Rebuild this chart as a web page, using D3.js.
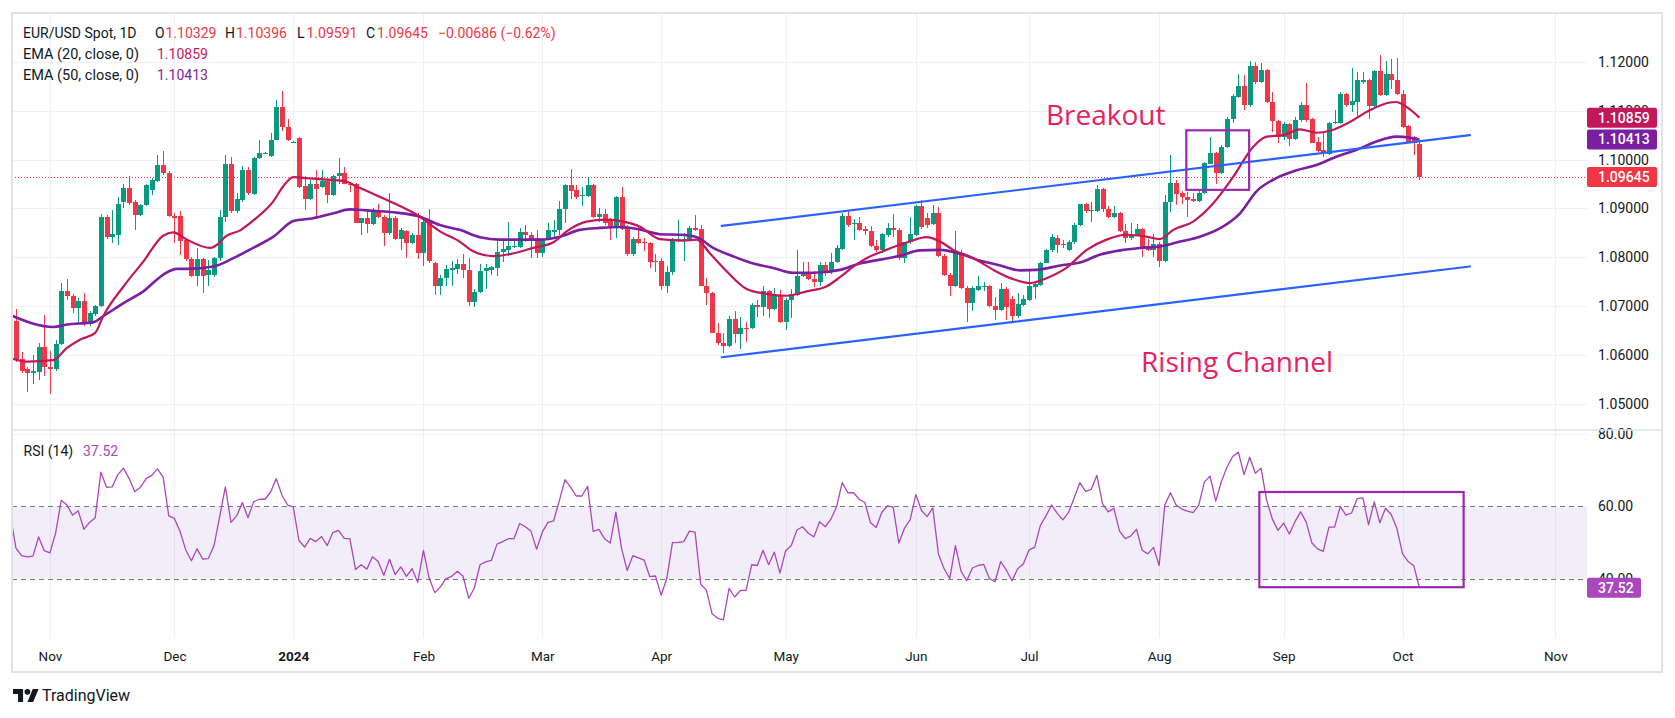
<!DOCTYPE html>
<html>
<head>
<meta charset="utf-8">
<script src="https://cdn.jsdelivr.net/npm/d3@7"></script>
<style>
  html, body { margin: 0; padding: 0; background: #ffffff; }
  svg { display: block; font-family: Roboto, "Noto Sans", "DejaVu Sans", sans-serif; }
</style>
</head>
<body>
<svg id="chart" width="1675" height="718"></svg>
<script>
// ---------------- DATA (daily EUR/USD, bar 0 = 24 Oct 2023, bar 248 = 4 Oct 2024) ----------------
const opens = [
1.0669,1.0592,1.0570,1.0563,1.0565,1.0616,1.0575,1.0570,1.0623,1.0731,
1.0720,1.0695,1.0711,1.0663,1.0684,1.0700,1.0883,1.0842,1.0846,1.0914,
1.0941,1.0913,1.0887,1.0906,1.0938,1.0957,1.0989,1.0972,1.0885,1.0885,
1.0836,1.0796,1.0761,1.0796,1.0764,1.0764,1.0798,1.0883,1.0992,1.0894,
1.0917,1.0979,1.0930,1.1003,1.1013,1.1008,1.1041,1.1108,1.1066,1.1036,
1.1045,1.0945,1.0920,1.0950,1.0943,1.0957,1.0928,1.0966,1.0972,1.0951,
1.0951,1.0871,1.0880,1.0868,1.0897,1.0883,1.0849,1.0880,1.0837,1.0853,
1.0830,1.0846,1.0808,1.0873,1.0788,1.0742,1.0757,1.0773,1.0776,1.0787,
1.0774,1.0708,1.0728,1.0772,1.0774,1.0777,1.0810,1.0815,1.0821,1.0821,
1.0851,1.0845,1.0840,1.0808,1.0837,1.0852,1.0856,1.0898,1.0948,1.0938,
1.0926,1.0926,1.0948,1.0883,1.0889,1.0876,1.0864,1.0924,1.0862,1.0807,
1.0838,1.0832,1.0829,1.0793,1.0793,1.0742,1.0770,1.0833,1.0833,1.0837,
1.0860,1.0857,1.0742,1.0727,1.0645,1.0624,1.0618,1.0674,1.0642,1.0655,
1.0655,1.0702,1.0697,1.0730,1.0694,1.0722,1.0667,1.0713,1.0723,1.0762,
1.0770,1.0756,1.0749,1.0783,1.0772,1.0791,1.0817,1.0885,1.0868,1.0871,
1.0858,1.0853,1.0823,1.0814,1.0846,1.0860,1.0856,1.0798,1.0832,1.0845,
1.0904,1.0880,1.0868,1.0890,1.0803,1.0764,1.0740,1.0809,1.0737,1.0706,
1.0733,1.0738,1.0741,1.0700,1.0691,1.0734,1.0715,1.0679,1.0703,1.0713,
1.0738,1.0744,1.0789,1.0814,1.0839,1.0827,1.0814,1.0831,1.0866,1.0909,
1.0894,1.0895,1.0940,1.0898,1.0883,1.0891,1.0854,1.0840,1.0845,1.0857,
1.0822,1.0815,1.0827,1.0792,1.0913,1.0953,1.0931,1.0923,1.0919,1.0916,
1.0931,1.0992,1.1013,1.0972,1.1025,1.1084,1.1128,1.1150,1.1111,1.1191,
1.1159,1.1184,1.1118,1.1079,1.1047,1.1072,1.1042,1.1081,1.1111,1.1084,
1.1037,1.1020,1.1011,1.1075,1.1075,1.1134,1.1112,1.1118,1.1160,1.1164,
1.1110,1.1181,1.1133,1.1176,1.1164,1.1135,1.1069,1.1047,1.10329
];
const highs = [
1.0694,1.0606,1.0576,1.0599,1.0625,1.0682,1.0607,1.0630,1.0747,1.0756,
1.0724,1.0716,1.0727,1.0690,1.0703,1.0889,1.0887,1.0897,1.0924,1.0951,
1.0966,1.0918,1.0910,1.0949,1.0962,1.1009,1.1017,1.0976,1.0891,1.0894,
1.0840,1.0801,1.0819,1.0798,1.0795,1.0801,1.0897,1.1009,1.1005,1.0931,
1.0987,1.0984,1.1005,1.1041,1.1015,1.1055,1.1123,1.1140,1.1084,1.1038,
1.1046,1.0966,1.0958,1.0979,1.0979,1.0960,1.0968,1.1003,1.0985,1.0953,
1.0953,1.0881,1.0898,1.0900,1.0909,1.0886,1.0931,1.0884,1.0860,1.0856,
1.0849,1.0890,1.0876,1.0898,1.0790,1.0764,1.0785,1.0793,1.0797,1.0807,
1.0798,1.0734,1.0787,1.0787,1.0781,1.0838,1.0838,1.0873,1.0838,1.0860,
1.0865,1.0851,1.0855,1.0840,1.0870,1.0877,1.0915,1.0951,1.0981,1.0948,
1.0943,1.0965,1.0950,1.0901,1.0898,1.0880,1.0926,1.0944,1.0866,1.0842,
1.0863,1.0840,1.0832,1.0807,1.0798,1.0781,1.0839,1.0877,1.0850,1.0863,
1.0887,1.0866,1.0757,1.0729,1.0665,1.0645,1.0680,1.0690,1.0678,1.0668,
1.0706,1.0713,1.0742,1.0733,1.0737,1.0733,1.0717,1.0735,1.0814,1.0791,
1.0791,1.0772,1.0790,1.0791,1.0808,1.0826,1.0890,1.0894,1.0879,1.0883,
1.0864,1.0864,1.0835,1.0850,1.0870,1.0889,1.0860,1.0832,1.0883,1.0907,
1.0917,1.0890,1.0906,1.0903,1.0806,1.0768,1.0853,1.0815,1.0741,1.0741,
1.0761,1.0750,1.0743,1.0718,1.0747,1.0739,1.0720,1.0726,1.0723,1.0776,
1.0748,1.0790,1.0816,1.0847,1.0845,1.0835,1.0835,1.0870,1.0910,1.0912,
1.0913,1.0947,1.0941,1.0905,1.0905,1.0893,1.0869,1.0870,1.0869,1.0859,
1.0837,1.0847,1.0831,1.0928,1.1009,1.0958,1.0935,1.0934,1.0932,1.0938,
1.0995,1.1047,1.1016,1.1030,1.1088,1.1135,1.1176,1.1174,1.1202,1.1200,
1.1198,1.1186,1.1139,1.1081,1.1077,1.1076,1.1087,1.1118,1.1157,1.1086,
1.1047,1.1057,1.1077,1.1101,1.1139,1.1137,1.1188,1.1180,1.1180,1.1166,
1.1183,1.1214,1.1202,1.1206,1.1209,1.1143,1.1071,1.1049,1.10396
];
const lows = [
1.0585,1.0563,1.0524,1.0540,1.0548,1.0556,1.0520,1.0566,1.0621,1.0712,
1.0686,1.0665,1.0660,1.0660,1.0680,1.0697,1.0838,1.0830,1.0825,1.0900,
1.0906,1.0855,1.0885,1.0904,1.0928,1.0955,1.0968,1.0883,1.0830,1.0805,
1.0793,1.0759,1.0742,1.0727,1.0742,1.0760,1.0792,1.0873,1.0891,1.0891,
1.0914,1.0928,1.0928,1.1001,1.1011,1.1006,1.1040,1.1059,1.1039,1.1034,
1.0941,1.0897,1.0917,1.0883,1.0941,1.0912,1.0926,1.0951,1.0950,1.0934,
1.0870,1.0846,1.0849,1.0866,1.0881,1.0822,1.0846,1.0835,1.0815,1.0798,
1.0828,1.0796,1.0781,1.0789,1.0723,1.0723,1.0742,1.0742,1.0765,1.0757,
1.0700,1.0697,1.0726,1.0735,1.0763,1.0762,1.0791,1.0803,1.0818,1.0818,
1.0832,1.0798,1.0798,1.0800,1.0835,1.0842,1.0846,1.0870,1.0919,1.0919,
1.0904,1.0924,1.0880,1.0873,1.0867,1.0836,1.0839,1.0856,1.0803,1.0803,
1.0828,1.0812,1.0778,1.0769,1.0733,1.0727,1.0764,1.0831,1.0793,1.0835,
1.0853,1.0740,1.0702,1.0644,1.0621,1.0604,1.0616,1.0625,1.0611,1.0626,
1.0652,1.0678,1.0679,1.0676,1.0692,1.0665,1.0650,1.0676,1.0721,1.0759,
1.0753,1.0739,1.0742,1.0762,1.0765,1.0789,1.0815,1.0862,1.0836,1.0853,
1.0845,1.0820,1.0810,1.0809,1.0842,1.0842,1.0795,1.0788,1.0828,1.0843,
1.0858,1.0860,1.0866,1.0801,1.0761,1.0721,1.0738,1.0735,1.0668,1.0689,
1.0730,1.0731,1.0698,1.0672,1.0689,1.0672,1.0667,1.0676,1.0700,1.0711,
1.0714,1.0741,1.0788,1.0811,1.0808,1.0818,1.0813,1.0828,1.0863,1.0890,
1.0873,1.0893,1.0893,1.0880,1.0880,1.0851,1.0829,1.0836,1.0843,1.0800,
1.0813,1.0800,1.0779,1.0790,1.0893,1.0906,1.0908,1.0883,1.0914,1.0914,
1.0929,1.0990,1.0950,1.0971,1.1023,1.1074,1.1126,1.1101,1.1107,1.1155,
1.1156,1.1115,1.1057,1.1033,1.1040,1.1028,1.1040,1.1078,1.1078,1.1034,
1.1015,1.1005,1.1009,1.1073,1.1073,1.1108,1.1098,1.1088,1.1155,1.1084,
1.1108,1.1130,1.1130,1.1145,1.1132,1.1065,1.1035,1.1009,1.09591
];
const closes = [
1.0590,1.0567,1.0563,1.0567,1.0616,1.0575,1.0570,1.0623,1.0731,1.0720,
1.0696,1.0711,1.0663,1.0686,1.0701,1.0883,1.0842,1.0848,1.0909,1.0941,
1.0911,1.0887,1.0907,1.0947,1.0958,1.0989,1.0972,1.0885,1.0880,1.0834,
1.0796,1.0761,1.0796,1.0762,1.0774,1.0798,1.0883,1.0992,1.0894,1.0919,
1.0979,1.0931,1.1003,1.1013,1.1014,1.1041,1.1108,1.1066,1.1040,1.1037,
1.0943,1.0920,1.0950,1.0939,1.0957,1.0928,1.0966,1.0972,1.0951,1.0950,
1.0871,1.0880,1.0868,1.0897,1.0883,1.0849,1.0880,1.0838,1.0855,1.0830,
1.0846,1.0808,1.0873,1.0793,1.0742,1.0758,1.0775,1.0778,1.0787,1.0774,
1.0708,1.0729,1.0772,1.0777,1.0780,1.0811,1.0817,1.0823,1.0823,1.0851,
1.0845,1.0838,1.0808,1.0837,1.0855,1.0855,1.0898,1.0948,1.0936,1.0924,
1.0927,1.0948,1.0883,1.0889,1.0871,1.0864,1.0924,1.0858,1.0807,1.0838,
1.0829,1.0829,1.0790,1.0790,1.0742,1.0770,1.0837,1.0837,1.0837,1.0860,
1.0856,1.0742,1.0727,1.0645,1.0624,1.0618,1.0674,1.0642,1.0655,1.0654,
1.0702,1.0697,1.0730,1.0694,1.0722,1.0667,1.0713,1.0725,1.0762,1.0770,
1.0755,1.0749,1.0783,1.0772,1.0791,1.0819,1.0885,1.0867,1.0871,1.0856,
1.0853,1.0822,1.0814,1.0848,1.0860,1.0856,1.0798,1.0832,1.0847,1.0904,
1.0862,1.0866,1.0890,1.0802,1.0764,1.0740,1.0809,1.0737,1.0706,1.0737,
1.0741,1.0741,1.0700,1.0691,1.0734,1.0697,1.0679,1.0704,1.0714,1.0742,
1.0745,1.0789,1.0814,1.0841,1.0826,1.0825,1.0832,1.0866,1.0909,1.0894,
1.0897,1.0940,1.0898,1.0883,1.0891,1.0853,1.0839,1.0846,1.0857,1.0818,
1.0815,1.0827,1.0792,1.0913,1.0953,1.0929,1.0923,1.0917,1.0916,1.0931,
1.0994,1.1013,1.0972,1.1026,1.1084,1.1130,1.1150,1.1111,1.1191,1.1159,
1.1184,1.1118,1.1079,1.1047,1.1072,1.1043,1.1082,1.1111,1.1081,1.1035,
1.1018,1.1013,1.1074,1.1077,1.1134,1.1111,1.1120,1.1163,1.1163,1.1110,
1.1181,1.1132,1.1176,1.1164,1.1134,1.1067,1.1037,1.10331,1.09645
];

// EMA readings [bar index, value]
const ema20 = [
[-0.7,1.0592],[2,1.0586],[6.6,1.0589],[9,1.0614],[11.3,1.0631],[14,1.0645],[15.4,1.0679],[19,1.0740],
[22.5,1.0791],[26,1.0844],[27.8,1.0851],[30.2,1.0836],[34.3,1.0819],[36,1.0830],[37,1.0842],[39.6,1.0855],
[42,1.0876],[45.5,1.0915],[47.2,1.0945],[49,1.0964],[50.2,1.0963],[53.7,1.0960],[58.4,1.0955],[60,1.0946],
[63.1,1.0930],[66.7,1.0911],[71.1,1.0885],[74.9,1.0853],[78.4,1.0832],[80.8,1.0812],[84.3,1.0802],[87.9,1.0808],
[91.4,1.0819],[94.9,1.0830],[97.3,1.0853],[100.8,1.0873],[104.4,1.0877],[107.3,1.0873],[110.2,1.0863],[113.8,1.0837],
[117.9,1.0834],[120.3,1.0836],[122.6,1.0808],[125.6,1.0771],[129.1,1.0735],[132.6,1.0725],[136.2,1.0721],[139.7,1.0730],
[143.2,1.0740],[145.6,1.0759],[148,1.0781],[150.3,1.0798],[153.8,1.0815],[157.4,1.0830],[160.9,1.0841],[163.3,1.0832],
[165.6,1.0815],[169.2,1.0798],[172.7,1.0774],[176.2,1.0755],[179.2,1.0747],[182.1,1.0757],[185.6,1.0778],[189.2,1.0815],
[192.7,1.0836],[196.2,1.0846],[199.8,1.0842],[202.1,1.0837],[204.5,1.0856],[208,1.0873],[211.6,1.0911],[215.1,1.0965],
[218.6,1.1026],[221,1.1047],[223.9,1.1050],[226.9,1.1062],[229.8,1.1055],[232.2,1.1059],[235.7,1.1077],[239.2,1.1101],
[242.8,1.1117],[243.9,1.1118],[245.7,1.1108],[248,1.10859]
];
const ema50 = [
[-0.7,1.0680],[6.6,1.0657],[9,1.0662],[13.7,1.0667],[15.4,1.0679],[19,1.0706],[22.5,1.0730],[26,1.0764],
[28.4,1.0776],[30.2,1.0776],[34.9,1.0781],[38.4,1.0798],[41.9,1.0819],[45.5,1.0842],[49,1.0874],[52.5,1.0880],
[56.1,1.0890],[59,1.0898],[62,1.0896],[66.7,1.0892],[71.4,1.0883],[74.9,1.0866],[78.4,1.0856],[82,1.0841],
[85.5,1.0836],[89,1.0836],[92.6,1.0836],[96.1,1.0842],[99.6,1.0856],[103.2,1.0860],[106.7,1.0862],[110.2,1.0857],
[113.8,1.0847],[117.3,1.0846],[120.3,1.0841],[123.2,1.0819],[126.7,1.0802],[130.3,1.0787],[133.8,1.0778],[137.3,1.0768],
[140.9,1.0768],[145.6,1.0774],[149.1,1.0787],[152.7,1.0795],[156.2,1.0803],[159.7,1.0814],[163.3,1.0815],[166.8,1.0807],
[170.3,1.0793],[173.9,1.0783],[177.4,1.0773],[180.3,1.0774],[184.5,1.0783],[188,1.0789],[191.5,1.0805],[195.1,1.0814],
[198.6,1.0819],[202.1,1.0822],[205.7,1.0832],[209.2,1.0842],[212.7,1.0859],[216.3,1.0890],[219.2,1.0935],[222.7,1.0962],
[226.3,1.0978],[229.8,1.0989],[233.3,1.1006],[236.9,1.1020],[240.4,1.1037],[243.9,1.1047],[246.3,1.1045],[248,1.10413]
];

// RSI(14), first value belongs to bar -1 (23 Oct 2023)
const rsiFirstIndex = -1;
const rsiValues = [
57.7,
48.5,46.4,46.1,46.3,51.6,47.8,47.2,52.6,61.7,60.4,
57.6,58.8,53.7,55.6,56.9,69.5,65.3,65.4,68.8,70.6,
67.7,64.1,65.3,67.7,68.6,70.4,68.1,57.4,56.7,53.1,
48.0,45.0,48.3,45.5,45.6,49.2,57.2,65.4,55.6,57.4,
61.1,56.9,61.3,62.0,62.0,64.0,67.7,63.1,60.4,59.9,
50.6,48.8,51.2,50.3,51.7,49.2,52.8,53.4,51.2,51.1,
42.6,43.9,42.7,46.1,44.8,41.0,45.4,41.2,43.3,40.7,
42.8,39.0,47.9,40.3,36.2,37.8,40.1,40.7,42.1,40.7,
34.6,37.5,43.9,44.7,45.1,49.6,50.3,51.1,51.1,55.3,
54.4,53.2,48.2,52.9,55.6,56.0,61.5,67.4,65.3,62.9,
62.9,65.6,53.1,53.7,51.1,49.9,58.4,48.5,42.3,46.4,
45.8,45.2,40.6,40.8,35.5,40.1,50.0,50.1,50.3,53.2,
52.9,38.5,36.9,30.4,29.1,28.7,37.4,35.0,36.8,36.8,
43.9,43.7,47.9,43.9,47.4,41.6,47.8,49.2,53.5,54.4,
52.6,51.6,55.8,54.4,56.5,59.9,66.6,63.8,63.8,62.0,
61.1,55.5,54.2,58.4,60.2,59.8,49.9,54.0,56.3,63.3,
58.9,57.2,59.6,46.9,42.8,40.1,49.2,42.1,39.5,43.0,
43.7,44.0,40.1,39.2,44.8,42.4,39.5,42.8,44.1,48.0,
48.7,54.7,57.4,60.4,58.1,56.3,58.4,62.4,66.6,64.2,
64.7,68.6,60.7,58.5,59.5,53.2,51.1,51.9,53.7,47.9,
46.9,48.7,43.7,60.4,63.8,60.4,59.3,58.7,58.3,60.4,
66.8,68.4,61.5,66.9,70.9,73.8,75.0,68.8,73.6,69.2,
70.6,61.7,56.5,53.4,55.4,52.4,55.8,58.5,55.6,49.9,
48.3,47.6,54.3,54.3,60.0,57.6,58.2,62.2,62.4,54.9,
61.3,55.5,59.5,57.8,54.0,47.0,44.8,43.6,37.52
];

// Axis ticks
const priceTicks = [1.05, 1.06, 1.07, 1.08, 1.09, 1.10, 1.11, 1.12];
const rsiTicks = [40, 60, 80];
const rsiBands = [40, 60];
const monthLabels = ["Nov", "Dec", "2024", "Feb", "Mar", "Apr", "May", "Jun", "Jul", "Aug", "Sep", "Oct", "Nov"];
const monthIndex  = [6, 28, 49, 72, 93, 114, 136, 159, 179, 202, 224, 245, 272];

// Drawings [bar index, price]
const channelUpper = [[124.7, 1.0864], [256.9, 1.1050]];
const channelLower = [[124.7, 1.0595], [256.9, 1.0781]];
const breakoutBox = [[206.8, 1.1060], [217.9, 1.0938]];
const rsiBox = [[219.7, 64.0], [255.8, 37.7]];
const annotations = [
  { text: "Breakout", i: 182.0, p: 1.10709 },
  { text: "Rising Channel", i: 198.8, p: 1.05648 }
];

// ---------------- LAYOUT ----------------
const svg = d3.select("#chart");
const L = 12, R = 1587, PT = 13, PB = 430, RT = 430, RB = 638, FR = 1662, FB = 672;
const UP = "#089981", DN = "#F23645", EMA20C = "#C2185B", EMA50C = "#7B1FA2", RSIC = "#AB47BC";
const GRID = "#EFF1F5", FRAME = "#E0E3EB", TXT = "#131722";

const x = d3.scaleLinear().domain([-0.7, 277.6]).range([L, R]);
const yP = d3.scaleLinear().domain([1.04459, 1.13004]).range([PB, PT]);
const yR = d3.scaleLinear().domain([23.67, 81.13]).range([RB, RT]);

const defs = svg.append("defs");
defs.append("clipPath").attr("id", "clipP").append("rect").attr("x", L).attr("y", PT).attr("width", R - L).attr("height", PB - PT);
defs.append("clipPath").attr("id", "clipR").append("rect").attr("x", L).attr("y", RT).attr("width", R - L).attr("height", RB - RT);

// grids
const grid = svg.append("g").attr("shape-rendering", "crispEdges");
grid.selectAll("line.h").data(priceTicks).join("line")
  .attr("x1", L).attr("x2", R)
  .attr("y1", d => Math.round(yP(d)) + 0.5).attr("y2", d => Math.round(yP(d)) + 0.5)
  .attr("stroke", GRID);
grid.append("line").attr("x1", L).attr("x2", R)
  .attr("y1", Math.round(yR(80)) + 0.5).attr("y2", Math.round(yR(80)) + 0.5).attr("stroke", GRID);
grid.selectAll("line.v").data(monthIndex).join("line")
  .attr("x1", d => Math.round(x(d)) + 0.5).attr("x2", d => Math.round(x(d)) + 0.5)
  .attr("y1", PT).attr("y2", RB).attr("stroke", GRID);

// RSI pane
const rsiG = svg.append("g").attr("clip-path", "url(#clipR)");
rsiG.append("rect").attr("x", L).attr("width", R - L)
  .attr("y", yR(rsiBands[1])).attr("height", yR(rsiBands[0]) - yR(rsiBands[1]))
  .attr("fill", "rgba(126,87,194,0.1)");
rsiG.selectAll("line.band").data(rsiBands).join("line")
  .attr("x1", L).attr("x2", R)
  .attr("y1", d => Math.round(yR(d)) + 0.5).attr("y2", d => Math.round(yR(d)) + 0.5)
  .attr("stroke", "#787B86").attr("stroke-dasharray", "5,4");
const rsiLine = d3.line().x((d, k) => x(k + rsiFirstIndex)).y(d => yR(d));
rsiG.append("path").datum(rsiValues).attr("d", rsiLine)
  .attr("fill", "none").attr("stroke", RSIC).attr("stroke-width", 1.3).attr("stroke-linejoin", "round");
rsiG.append("rect")
  .attr("x", x(rsiBox[0][0])).attr("y", yR(rsiBox[0][1]))
  .attr("width", x(rsiBox[1][0]) - x(rsiBox[0][0])).attr("height", yR(rsiBox[1][1]) - yR(rsiBox[0][1]))
  .attr("fill", "none").attr("stroke", "#9C27B0").attr("stroke-width", 2.2);

// Price pane
const pp = svg.append("g").attr("clip-path", "url(#clipP)");
const lastClose = closes[closes.length - 1];
pp.append("line").attr("x1", L).attr("x2", R)
  .attr("y1", Math.round(yP(lastClose)) + 0.5).attr("y2", Math.round(yP(lastClose)) + 0.5)
  .attr("stroke", DN).attr("stroke-dasharray", "1,2");

const bars = d3.range(closes.length).map(i => ({ i, o: opens[i], h: highs[i], l: lows[i], c: closes[i] }));
const cg = pp.append("g").attr("shape-rendering", "crispEdges");
cg.selectAll("line.wick").data(bars).join("line")
  .attr("x1", d => Math.round(x(d.i)) + 0.5).attr("x2", d => Math.round(x(d.i)) + 0.5)
  .attr("y1", d => yP(d.h)).attr("y2", d => yP(d.l))
  .attr("stroke", d => d.c >= d.o ? UP : DN);
cg.selectAll("rect.body").data(bars).join("rect")
  .attr("x", d => Math.round(x(d.i)) - 2).attr("width", 5)
  .attr("y", d => yP(Math.max(d.o, d.c)))
  .attr("height", d => Math.max(1, Math.abs(yP(d.o) - yP(d.c))))
  .attr("fill", d => d.c >= d.o ? UP : DN);

const emaLine = d3.line().x(d => x(d[0])).y(d => yP(d[1])).curve(d3.curveMonotoneX);
pp.append("path").datum(ema50).attr("d", emaLine).attr("fill", "none")
  .attr("stroke", EMA50C).attr("stroke-width", 2.6).attr("stroke-linejoin", "round");
pp.append("path").datum(ema20).attr("d", emaLine).attr("fill", "none")
  .attr("stroke", EMA20C).attr("stroke-width", 2.2).attr("stroke-linejoin", "round");

const straight = d3.line().x(d => x(d[0])).y(d => yP(d[1]));
[channelUpper, channelLower].forEach(c => {
  pp.append("path").datum(c).attr("d", straight).attr("fill", "none")
    .attr("stroke", "#2962FF").attr("stroke-width", 2.2).attr("stroke-linecap", "round");
});
pp.append("rect")
  .attr("x", x(breakoutBox[0][0])).attr("y", yP(breakoutBox[0][1]))
  .attr("width", x(breakoutBox[1][0]) - x(breakoutBox[0][0]))
  .attr("height", yP(breakoutBox[1][1]) - yP(breakoutBox[0][1]))
  .attr("fill", "none").attr("stroke", "#9C27B0").attr("stroke-width", 2.2);

pp.selectAll("text.ann").data(annotations).join("text")
  .attr("x", d => x(d.i)).attr("y", d => yP(d.p))
  .attr("fill", "#E91E63").attr("font-size", 28)
  .attr("font-family", "'Open Sans', 'Noto Sans', sans-serif")
  .text(d => d.text);

// ---------------- AXES ----------------
const fmt5 = d3.format(".5f");
const pAxis = svg.append("g").attr("transform", `translate(${R},0)`)
  .call(d3.axisRight(yP).tickValues(priceTicks).tickFormat(fmt5).tickSize(0).tickPadding(11));
pAxis.select(".domain").remove();
pAxis.selectAll("text").attr("font-size", 14).attr("fill", TXT).attr("font-family", "Roboto, sans-serif");

const rAxis = svg.append("g").attr("transform", `translate(${R},0)`)
  .call(d3.axisRight(yR).tickValues(rsiTicks).tickFormat(d3.format(".2f")).tickSize(0).tickPadding(11));
rAxis.select(".domain").remove();
rAxis.selectAll("text").attr("font-size", 14).attr("fill", TXT).attr("font-family", "Roboto, sans-serif");

const tAxis = svg.append("g").attr("transform", `translate(0,${RB})`)
  .call(d3.axisBottom(x).tickValues(monthIndex).tickFormat((d, k) => monthLabels[k]).tickSize(0).tickPadding(13));
tAxis.select(".domain").remove();
tAxis.selectAll("text").attr("font-size", 13.5).attr("fill", TXT).attr("font-family", "Roboto, sans-serif")
  .attr("font-weight", d => monthLabels[monthIndex.indexOf(d)] === "2024" ? "bold" : "normal");

// price labels on the axis
const lastEma20 = ema20[ema20.length - 1][1], lastEma50 = ema50[ema50.length - 1][1];
const lastRsi = rsiValues[rsiValues.length - 1];
const tags = [
  { c: EMA20C, y: yP(lastEma20), t: fmt5(lastEma20), w: 70 },
  { c: EMA50C, y: yP(lastEma50), t: fmt5(lastEma50), w: 70 },
  { c: DN, y: yP(lastClose), t: fmt5(lastClose), w: 70 },
  { c: RSIC, y: yR(lastRsi), t: d3.format(".2f")(lastRsi), w: 54 }
];
const tg = svg.append("g");
tg.selectAll("rect").data(tags).join("rect")
  .attr("x", R).attr("y", d => d.y - 10).attr("width", d => d.w).attr("height", 20).attr("rx", 2)
  .attr("fill", d => d.c);
tg.selectAll("text").data(tags).join("text")
  .attr("x", R + 11).attr("y", d => d.y).attr("dy", "0.35em")
  .attr("fill", "#ffffff").attr("font-size", 14).attr("font-weight", 500)
  .attr("font-family", "Roboto, sans-serif")
  .text(d => d.t);

// frame
const fr = svg.append("g").attr("fill", "none").attr("stroke", FRAME).attr("stroke-width", 2);
fr.append("rect").attr("x", L).attr("y", PT).attr("width", FR - L).attr("height", FB - PT);
fr.append("line").attr("x1", L).attr("x2", FR).attr("y1", PB).attr("y2", PB).attr("stroke-width", 1.5);

// ---------------- LEGEND ----------------
const n = closes.length - 1;
const chg = closes[n] - closes[n - 1];
const pct = chg / closes[n - 1] * 100;
const sign = v => (v < 0 ? "\u2212" : "+");
const lg = svg.append("g").attr("font-family", "Roboto, sans-serif");
const l1 = [
  { x: 23, t: "EUR/USD Spot, 1D", c: TXT },
  { x: 155, t: "O", c: TXT }, { x: 165.5, t: fmt5(opens[n]), c: DN },
  { x: 225, t: "H", c: TXT }, { x: 236, t: fmt5(highs[n]), c: DN },
  { x: 297, t: "L", c: TXT }, { x: 306.5, t: fmt5(lows[n]), c: DN },
  { x: 366, t: "C", c: TXT }, { x: 377, t: fmt5(closes[n]), c: DN },
  { x: 438, t: sign(chg) + Math.abs(chg).toFixed(5) + " (" + sign(pct) + Math.abs(pct).toFixed(2) + "%)", c: DN }
];
lg.selectAll("text.l1").data(l1).join("text")
  .attr("x", d => d.x).attr("y", 37.7).attr("font-size", 14).attr("fill", d => d.c).text(d => d.t);
const l2 = [
  { x: 23, y: 58.7, t: "EMA (20, close, 0)", c: TXT, s: 14.5 },
  { x: 157, y: 58.7, t: fmt5(lastEma20), c: EMA20C, s: 14 },
  { x: 23, y: 79.5, t: "EMA (50, close, 0)", c: TXT, s: 14.5 },
  { x: 157, y: 79.5, t: fmt5(lastEma50), c: EMA50C, s: 14 },
  { x: 23.5, y: 456, t: "RSI (14)", c: TXT, s: 14 },
  { x: 83, y: 456, t: d3.format(".2f")(lastRsi), c: RSIC, s: 14 }
];
lg.selectAll("text.l2").data(l2).join("text")
  .attr("x", d => d.x).attr("y", d => d.y).attr("font-size", d => d.s).attr("fill", d => d.c).text(d => d.t);

// ---------------- LOGO ----------------
const logo = svg.append("g").attr("transform", "translate(13,686.1) scale(0.72)").attr("fill", TXT);
logo.append("path").attr("d", "M14 22H7V11H0V4h14v18z");
logo.append("path").attr("d", "M28 22h-8l7.5-18h8L28 22z");
logo.append("circle").attr("cx", 20).attr("cy", 8).attr("r", 4);
svg.append("text").attr("x", 42).attr("y", 701).attr("font-size", 16).attr("fill", TXT)
  .attr("font-family", "Roboto, sans-serif").text("TradingView");
</script>
</body>
</html>
